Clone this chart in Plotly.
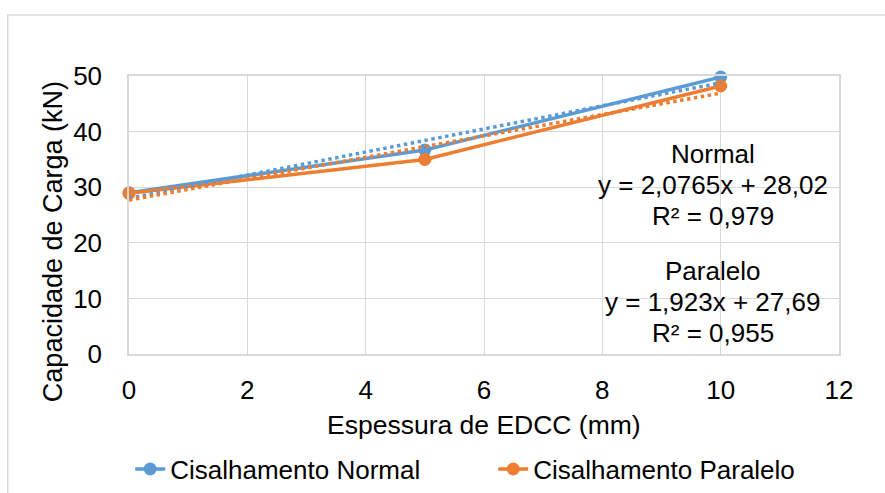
import plotly.graph_objects as go

# ---- data ----
espessura = [0, 5, 10]
normal = [29.0, 36.7, 49.8]
paralelo = [28.9, 35.0, 48.2]

series_names = ["Cisalhamento Normal", "Cisalhamento Paralelo"]
slopes = [2.0765, 1.923]
intercepts = [28.02, 27.69]
r2 = [0.979, 0.955]
trend_labels = ["Normal", "Paralelo"]
eq_texts = ["y = 2,0765x + 28,02", "y = 1,923x + 27,69"]
r2_texts = ["R² = 0,979", "R² = 0,955"]

x_title = "Espessura de EDCC (mm)"
y_title = "Capacidade de Carga (kN)"

BLUE = "#5B9BD5"
ORANGE = "#ED7D31"
GRID = "#d9d9d9"
FONT = "Liberation Sans, Arial, sans-serif"

fig = go.Figure()

for name, vals, col, lg in [(series_names[0], normal, BLUE, "legend"),
                            (series_names[1], paralelo, ORANGE, "legend2")]:
    fig.add_trace(go.Scatter(
        x=espessura, y=vals, name=name, mode="lines+markers",
        line=dict(color=col, width=3.5),
        marker=dict(color=col, size=13),
        cliponaxis=False, legend=lg,
    ))

# trendlines from the displayed linear fits
for m, b, col in [(slopes[0], intercepts[0], BLUE), (slopes[1], intercepts[1], ORANGE)]:
    xs = [espessura[0], espessura[-1]]
    fig.add_trace(go.Scatter(
        x=xs, y=[m * v + b for v in xs], mode="lines",
        line=dict(color=col, width=3.5, dash="dot"),
        showlegend=False, hoverinfo="skip", cliponaxis=False,
    ))

annotations = []
label_rows = [
    (trend_labels[0], 36.0), (eq_texts[0], 30.4), (r2_texts[0], 24.8),
    (trend_labels[1], 15.0), (eq_texts[1], 9.4), (r2_texts[1], 3.8),
]
for txt, yy in label_rows:
    annotations.append(dict(
        x=9.87, y=yy, xref="x", yref="y", text=txt, showarrow=False,
        xanchor="center", yanchor="middle",
        font=dict(size=26, color="#000000", family=FONT),
    ))

annotations.append(dict(
    x=0.5, y=-0.254, xref="paper", yref="paper", text=x_title, showarrow=False,
    xanchor="center", yanchor="middle", font=dict(size=26.5, color="#000000", family=FONT),
))
annotations.append(dict(
    x=-0.106, y=0.405, xref="paper", yref="paper", text=y_title, showarrow=False,
    textangle=-90, xanchor="center", yanchor="middle",
    font=dict(size=27, color="#000000", family=FONT),
))

legend_common = dict(
    orientation="h", y=-0.414, xref="paper", yref="paper",
    xanchor="left", yanchor="middle",
    font=dict(size=26, family=FONT, color="#000000"),
    bgcolor="rgba(0,0,0,0)",
)

fig.update_layout(
    width=885, height=493,
    margin=dict(l=129, r=46, t=76, b=139, autoexpand=False),
    paper_bgcolor="white", plot_bgcolor="white",
    font=dict(family=FONT, size=26, color="#000000"),
    showlegend=True,
    legend=dict(x=0.0017, **legend_common),
    legend2=dict(x=0.513, **legend_common),
    xaxis=dict(
        range=[0, 12], dtick=2, tick0=0, automargin=False,
        showgrid=True, gridcolor=GRID, gridwidth=1.3,
        showline=True, linecolor=GRID, linewidth=1.5, mirror=True,
        zeroline=False, ticks="", ticklabelstandoff=12,
        tickfont=dict(size=26, family=FONT, color="#000000"),
    ),
    yaxis=dict(
        range=[0, 50], dtick=10, tick0=0, automargin=False,
        showgrid=True, gridcolor=GRID, gridwidth=1.3,
        showline=True, linecolor=GRID, linewidth=1.5, mirror=True,
        zeroline=False, ticks="", ticklabelstandoff=20,
        tickfont=dict(size=26, family=FONT, color="#000000"),
    ),
    annotations=annotations,
    shapes=[dict(
        type="rect", xref="paper", yref="paper",
        x0=-0.1708, x1=1.2, y0=-0.6, y1=1.2192,
        line=dict(color=GRID, width=1.5), fillcolor="rgba(0,0,0,0)", layer="below",
    )],
)

fig.write_html("out.html", config={"displayModeBar": False},
               post_script="document.body.style.margin='0';document.body.style.padding='0';")
